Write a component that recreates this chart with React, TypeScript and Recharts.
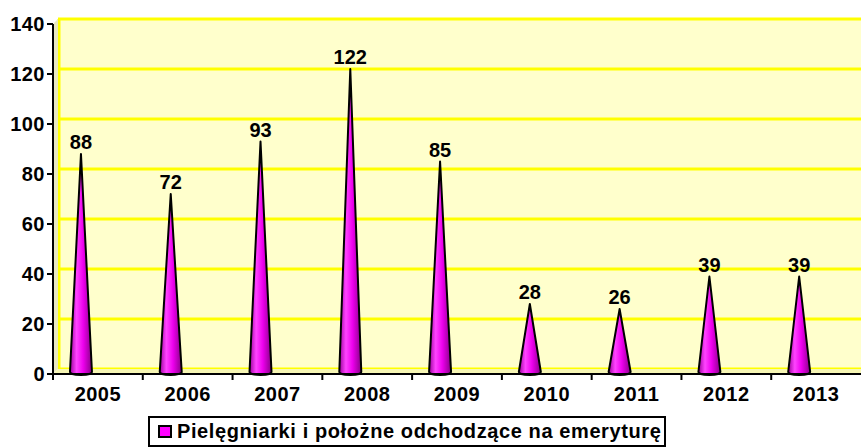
import React from 'react';
import { BarChart, Bar, XAxis, YAxis, CartesianGrid, LabelList, Customized } from 'recharts';

const years = ['2005', '2006', '2007', '2008', '2009', '2010', '2011', '2012', '2013'];
const retirees = [88, 72, 93, 122, 85, 28, 26, 39, 39];
const yTicks = [0, 20, 40, 60, 80, 100, 120, 140];
const seriesName = 'Pielęgniarki i położne odchodzące na emeryturę';

const data = years.map((year, i) => ({ year, value: retirees[i] }));

// layout
const W = 861;
const H = 448;
const AXIS_W = 53;
const TOP = 24;
const PLOT_H = 350;
const DEPTH = 5; // fake 3D depth of the back wall
const CONE_SHIFT = -17; // cones sit towards the back wall
const BAND = (W - AXIS_W) / years.length;
const FONT = 'Arial, "Liberation Sans", sans-serif';

const Cone = (props: any) => {
  const { x, y, width, height } = props;
  if (height == null || height <= 0) return null;
  const cx = x + width / 2 + CONE_SHIFT;
  const base = y + height - 2;
  const r = 11;
  return (
    <path
      d={`M ${cx - r} ${base} L ${cx} ${y} L ${cx + r} ${base} A ${r} 3 0 0 1 ${cx - r} ${base} Z`}
      fill="url(#coneFill)"
      stroke="#000"
      strokeWidth={2}
      strokeLinejoin="round"
    />
  );
};

const ValueLabel = (props: any) => {
  const { x, y, width, value } = props;
  return (
    <text
      x={x + width / 2 + CONE_SHIFT}
      y={y - 5}
      textAnchor="middle"
      fontFamily={FONT}
      fontWeight="bold"
      fontSize={20}
      fill="#000"
    >
      {value}
    </text>
  );
};

const YearTick = (props: any) => {
  const { x, y, payload } = props;
  return (
    <g>
      <line x1={x - BAND / 2} y1={y - 8} x2={x - BAND / 2} y2={y - 2} stroke="#000" strokeWidth={2} />
      <text
        x={x}
        y={y + 19}
        textAnchor="middle"
        fontFamily={FONT}
        fontWeight="bold"
        fontSize={20}
        letterSpacing={0.5}
        fill="#000"
      >
        {payload.value}
      </text>
    </g>
  );
};

// side wall + floor of the 3D box
const Walls = () => {
  const bottom = TOP + PLOT_H;
  return (
    <g>
      <polygon
        points={`${AXIS_W},${TOP} ${AXIS_W + DEPTH},${TOP - DEPTH} ${AXIS_W + DEPTH},${bottom - DEPTH} ${AXIS_W},${bottom}`}
        fill="#E8E8C0"
      />
      <polygon
        points={`${AXIS_W},${bottom} ${AXIS_W + DEPTH},${bottom - DEPTH} ${W},${bottom - DEPTH} ${W},${bottom}`}
        fill="#F6F6B4"
      />
    </g>
  );
};

export default function App() {
  return (
    <div style={{ position: 'absolute', left: 0, top: 0, width: W, height: H, background: '#fff', overflow: 'hidden' }}>
      <BarChart width={W} height={H} data={data} margin={{ top: TOP, right: 0, left: 0, bottom: 40 }} barCategoryGap="20%">
        <defs>
          <linearGradient id="coneFill" x1="0" y1="0" x2="1" y2="0">
            <stop offset="0%" stopColor="#990099" />
            <stop offset="30%" stopColor="#FF44FF" />
            <stop offset="60%" stopColor="#EE00EE" />
            <stop offset="100%" stopColor="#880088" />
          </linearGradient>
        </defs>
        <Customized component={Walls} />
        <CartesianGrid
          x={AXIS_W + DEPTH}
          y={TOP - DEPTH}
          width={W - AXIS_W - DEPTH}
          height={PLOT_H}
          fill="#FFFFCC"
          fillOpacity={1}
          stroke="#FFFF00"
          strokeWidth={3}
          horizontalCoordinatesGenerator={() => yTicks.map((t) => TOP + PLOT_H * (1 - t / 140) - DEPTH)}
          verticalCoordinatesGenerator={() => [AXIS_W + DEPTH + 1]}
        />
        <XAxis
          dataKey="year"
          height={34}
          axisLine={{ stroke: '#000', strokeWidth: 2 }}
          tickLine={false}
          tick={<YearTick />}
          interval={0}
        />
        <YAxis
          width={AXIS_W}
          domain={[0, 140]}
          ticks={yTicks}
          interval={0}
          axisLine={{ stroke: '#000', strokeWidth: 2 }}
          tickLine={{ stroke: '#000', strokeWidth: 2 }}
          tickSize={6}
          tick={{ fontFamily: FONT, fontWeight: 'bold', fontSize: 20, fill: '#000', letterSpacing: 0.5 }}
        />
        <Bar dataKey="value" name={seriesName} shape={<Cone />} isAnimationActive={false}>
          <LabelList dataKey="value" content={<ValueLabel />} />
        </Bar>
      </BarChart>
      <div
        style={{
          position: 'absolute',
          left: 148,
          top: 416,
          width: 518,
          height: 31,
          border: '2px solid #000',
          background: '#fff',
          display: 'flex',
          alignItems: 'center',
          fontFamily: FONT,
          fontWeight: 'bold',
          fontSize: 20,
          letterSpacing: 0.6,
          color: '#000',
          boxSizing: 'border-box',
          whiteSpace: 'nowrap',
        }}
      >
        <span
          style={{
            display: 'inline-block',
            width: 14,
            height: 13,
            marginLeft: 8,
            marginRight: 5,
            background: '#FF00FF',
            border: '2px solid #000',
            boxSizing: 'border-box',
          }}
        />
        <span>{seriesName}</span>
      </div>
    </div>
  );
}
